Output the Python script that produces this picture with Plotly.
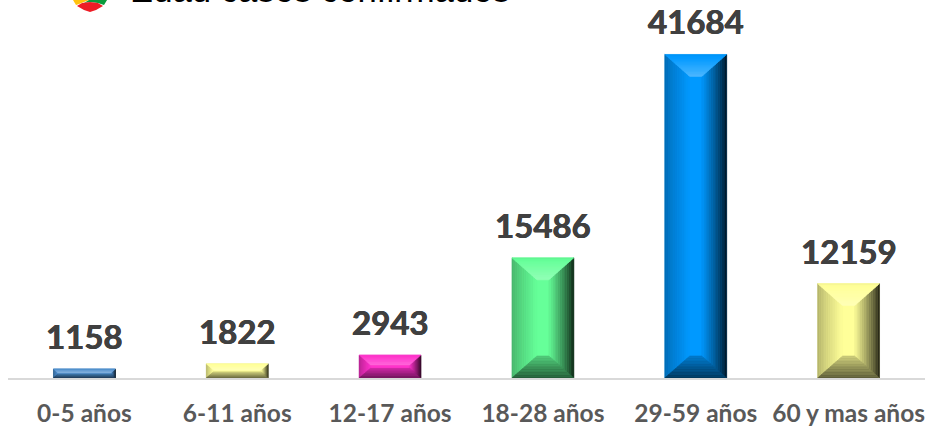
import plotly.graph_objects as go

categories = ["0-5 años", "6-11 años", "12-17 años", "18-28 años", "29-59 años", "60 y mas años"]
values = [1158, 1822, 2943, 15486, 41684, 12159]
base_colors = ["#4F8FCF", "#FFFF99", "#FF33CC", "#66FF99", "#0099FF", "#FFFF99"]
title_text = "Edad casos confirmados"

W, H = 928, 426
L, R, T, B = 8, 3, 0, 48
YMAX = 48700
BAR_W = 0.405
px_x = (W - L - R) / 6
px_y = (H - T - B) / YMAX


def rgb(hexc):
    return [int(hexc[i:i + 2], 16) for i in (1, 3, 5)]


def shade(c, k):
    """k<1 darkens towards black, k>1 lightens towards white."""
    if k <= 1:
        v = [x * k for x in c]
    else:
        v = [x + (255 - x) * (k - 1) for x in c]
    return "rgb(%d,%d,%d)" % tuple(v)


def lerp(a, b, t):
    return a + (b - a) * t


fig = go.Figure()
xs = list(range(6))

# Real bars, from the data
fig.add_trace(go.Bar(x=xs, y=values, width=BAR_W,
                     marker=dict(color=base_colors, line=dict(width=0)),
                     hoverinfo="skip", showlegend=False))


def poly(pts, color):
    fig.add_trace(go.Scatter(x=[p[0] for p in pts] + [pts[0][0]],
                             y=[p[1] for p in pts] + [pts[0][1]],
                             mode="lines", fill="toself", fillcolor=color,
                             line=dict(width=0.6, color=color), hoverinfo="skip", showlegend=False))


STEPS = 14
for i, (v, col) in enumerate(zip(values, base_colors)):
    c = rgb(col)
    hpx = v * px_y
    bv = min(22, hpx * 0.45)          # vertical bevel, px
    bh = min(25, bv * 1.15)           # horizontal bevel, px
    dy = bv / px_y
    dx = bh / px_x
    x0, x1 = i - BAR_W / 2, i + BAR_W / 2
    # left bevel: dim edge to full colour
    for s in range(STEPS):
        a, b = s / STEPS, (s + 1) / STEPS
        k = lerp(0.70, 1.0, ((a + b) / 2) ** 0.8)
        poly([(x0 + dx * a, dy * a), (x0 + dx * b, dy * b),
              (x0 + dx * b, v - dy * b), (x0 + dx * a, v - dy * a)], shade(c, k))
    # right bevel: full colour to near black
    for s in range(STEPS):
        a, b = s / STEPS, (s + 1) / STEPS
        k = lerp(0.10, 0.98, ((a + b) / 2) ** 0.8)
        poly([(x1 - dx * a, dy * a), (x1 - dx * b, dy * b),
              (x1 - dx * b, v - dy * b), (x1 - dx * a, v - dy * a)], shade(c, k))
    # top bevel: brightening inwards
    for s in range(STEPS):
        a, b = s / STEPS, (s + 1) / STEPS
        k = lerp(0.96, 1.30, (a + b) / 2)
        poly([(x0 + dx * a, v - dy * a), (x1 - dx * a, v - dy * a),
              (x1 - dx * b, v - dy * b), (x0 + dx * b, v - dy * b)], shade(c, k))
    # bottom bevel: darkening towards the base
    for s in range(STEPS):
        a, b = s / STEPS, (s + 1) / STEPS
        k = lerp(0.36, 0.80, (a + b) / 2)
        poly([(x0 + dx * a, dy * a), (x1 - dx * a, dy * a),
              (x1 - dx * b, dy * b), (x0 + dx * b, dy * b)], shade(c, k))

# Data labels
annotations = [dict(x=i, y=v, text="<b>%d</b>" % v, showarrow=False, yshift=33, yanchor="middle",
                    xanchor="center",
                    font=dict(family="Lato", size=33, color="#404040",
                              shadow="0.4px 0 0 #404040, -0.4px 0 0 #404040"))
               for i, v in enumerate(values)]
# Title, cropped by the top of the picture
annotations.append(dict(xref="paper", yref="paper", x=(128 - L) / (W - L - R), y=1 - (-31 - T) / (H - T - B),
                        text=title_text, showarrow=False, xanchor="left", yanchor="top",
                        font=dict(family="Liberation Sans", size=34.7, color="#000000")))

# Small shield logo, cropped by the top
shapes = []
def px(x):
    return (x - L) / (W - L - R)
def py(y):
    return 1 - (y - T) / (H - T - B)
def path(pts):
    return "M " + " L ".join("%.4f,%.4f" % (px(a), py(b)) for a, b in pts) + " Z"
logo = [
    ([(73, 0), (89, 0), (84, 2), (79, 4), (76, 5)], "#FFC20E"),
    ([(89, 0), (107, 0), (104, 5), (98, 3), (90, 2), (84, 3)], "#0A9A3C"),
    ([(77, 6), (82, 3), (90, 2), (98, 3), (103, 6), (96, 10), (90, 12), (84, 10)], "#EE1C25"),
]
for pts, c in logo:
    shapes.append(dict(type="path", xref="paper", yref="paper", path=path(pts),
                       fillcolor=c, line=dict(width=0), layer="above"))

fig.update_layout(
    width=W, height=H,
    margin=dict(l=L, r=R, t=T, b=B, pad=0),
    paper_bgcolor="white", plot_bgcolor="white",
    showlegend=False, annotations=annotations, shapes=shapes,
    xaxis=dict(range=[-0.5, 5.5], tickmode="array", tickvals=xs, ticktext=["<b>%s</b>" % c for c in categories],
               showgrid=False, zeroline=False, showline=True, linecolor="#D9D9D9", linewidth=2,
               ticks="", ticklabelstandoff=13, tickangle=0, automargin=False,
               tickfont=dict(family="Lato", size=24.5, color="#595959"), fixedrange=True),
    yaxis=dict(range=[0, YMAX], visible=False, showgrid=False, zeroline=False, fixedrange=True),
)
fig.write_html("out.html", config=dict(displayModeBar=False),
               post_script="document.body.style.margin='0';document.body.style.overflow='hidden';")
